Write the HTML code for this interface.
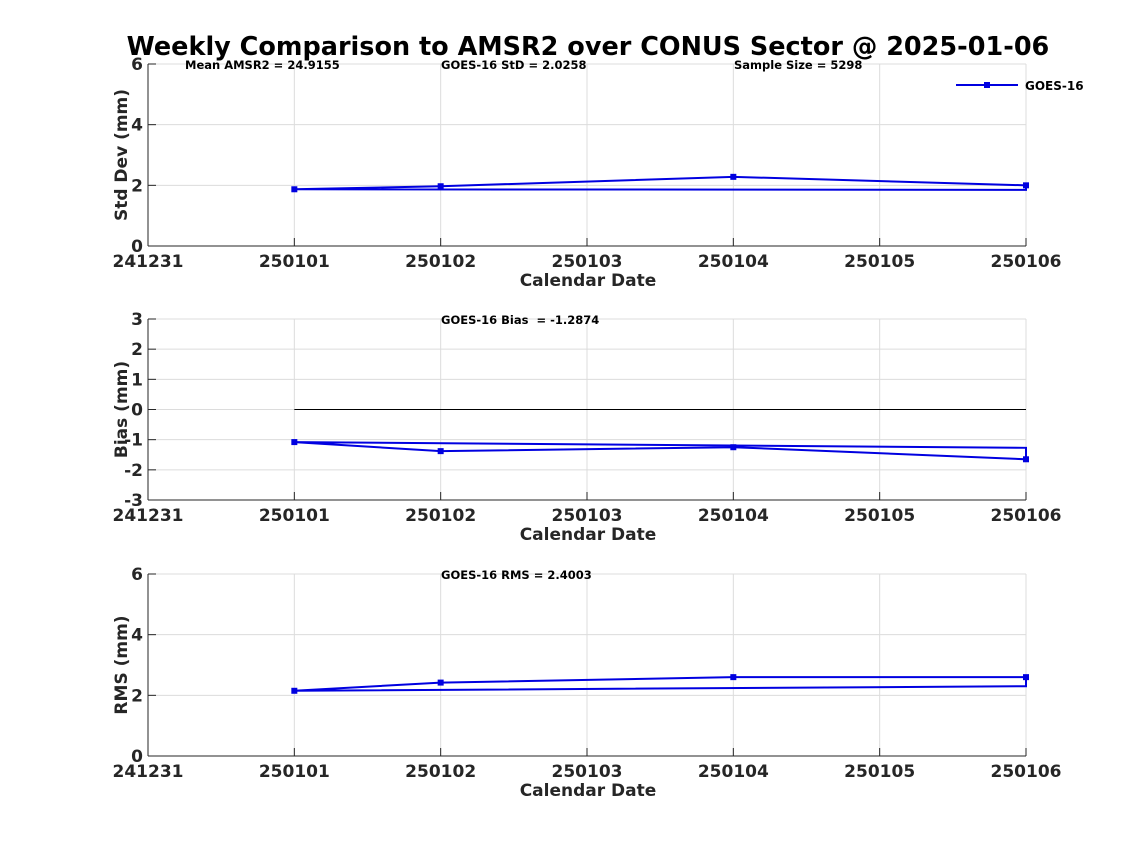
<!DOCTYPE html>
<html><head><meta charset="utf-8"><style>
body{margin:0;background:#fff}
svg text{font-family:"DejaVu Sans","Liberation Sans",sans-serif;font-weight:bold;fill:#262626;white-space:pre}
</style></head><body>
<svg id="c" width="1135" height="851" xmlns="http://www.w3.org/2000/svg">
<text x="588" y="55" text-anchor="middle" font-size="25.5" style="fill:#000">Weekly Comparison to AMSR2 over CONUS Sector @ 2025-01-06</text>
</svg>
<script>
const xTickLabels=["241231","250101","250102","250103","250104","250105","250106"];
const dates=[1,2,4,6,6,1];
const markerCount=4;
const stdValues=[1.87,1.97,2.28,2.0,1.85,1.87];
const biasValues=[-1.08,-1.38,-1.25,-1.65,-1.27,-1.08];
const rmsValues=[2.15,2.42,2.6,2.6,2.3,2.15];
const stdTicks=[0,2,4,6];
const biasTicks=[-3,-2,-1,0,1,2,3];
const rmsTicks=[0,2,4,6];
const annotations=[
 [["Mean AMSR2 = 24.9155",185],["GOES-16 StD = 2.0258",441],["Sample Size = 5298",734]],
 [["GOES-16 Bias  = -1.2874",441]],
 [["GOES-16 RMS = 2.4003",441]]];
const NS="http://www.w3.org/2000/svg";
const svg=document.getElementById('c');
const X0=148,X1=1026;
const xs=d=>X0+(X1-X0)*d/6;
function mk(tag,at,parent){const e=document.createElementNS(NS,tag);for(const k in at)e.setAttribute(k,at[k]);(parent||svg).appendChild(e);return e;}
const panels=[
 {top:64,bot:246,min:0,max:6,ticks:stdTicks,vals:stdValues,label:"Std Dev (mm)",name:"std"},
 {top:319,bot:500,min:-3,max:3,ticks:biasTicks,vals:biasValues,label:"Bias (mm)",name:"bias"},
 {top:574,bot:756,min:0,max:6,ticks:rmsTicks,vals:rmsValues,label:"RMS (mm)",name:"rms"}];
panels.forEach((p,pi)=>{
 const ys=v=>p.bot-(p.bot-p.top)*(v-p.min)/(p.max-p.min);
 const g=mk('g',{});
 
 
 xTickLabels.forEach((t,i)=>{const x=xs(i);
  const l=mk('line',{x1:x,x2:x,y1:p.top,y2:p.bot,stroke:'#dcdcdc','stroke-width':1},g);
  
  mk('line',{x1:x,x2:x,y1:p.bot,y2:p.bot-8,stroke:'#262626','stroke-width':1},g);
  const tx=mk('text',{x:x,y:p.bot+21,'text-anchor':'middle','font-size':17},g);tx.textContent=t;
  
 });
 p.ticks.forEach(v=>{const y=ys(v);
  const l=mk('line',{x1:X0,x2:X1,y1:y,y2:y,stroke:'#dcdcdc','stroke-width':1},g);
  
  mk('line',{x1:X0,x2:X0+8,y1:y,y2:y,stroke:'#262626'},g);
  const tx=mk('text',{x:X0-5,y:y+6,'text-anchor':'end','font-size':17},g);tx.textContent=v;
  
 });
 mk('line',{x1:X0,x2:X0,y1:p.top,y2:p.bot,stroke:'#262626'},g);
 mk('line',{x1:X0,x2:X1,y1:p.bot,y2:p.bot,stroke:'#262626'},g);
 const xt=mk('text',{x:588,y:p.bot+40,'text-anchor':'middle','font-size':17},g);xt.textContent="Calendar Date";
 
 const yc=(p.top+p.bot)/2;
 const yt=mk('text',{x:0,y:0,'text-anchor':'middle','font-size':17,transform:`translate(127,${yc}) rotate(-90)`},g);yt.textContent=p.label;
 
 annotations[pi].forEach(a=>{const t=mk('text',{x:a[1],y:p.top+5,'font-size':11.5,style:'fill:#000'},g);t.textContent=a[0];
  });
 if(p.name==='bias'){const z=mk('line',{x1:xs(1),x2:xs(6),y1:ys(0),y2:ys(0),stroke:'#000','stroke-width':1},g);
  }
 const pts=dates.map((d,i)=>xs(d)+','+ys(p.vals[i])).join(' ');
 const pl=mk('polyline',{points:pts,fill:'none',stroke:'#0000e0','stroke-width':2},g);
 
 for(let i=0;i<markerCount;i++){const m=mk('rect',{x:xs(dates[i])-3,y:ys(p.vals[i])-3,width:6,height:6,fill:'#0000e0'},g);
  }
});
const lg=mk('g',{});


mk('line',{x1:956,x2:1018,y1:85,y2:85,stroke:'#0000e0','stroke-width':2},lg);
mk('rect',{x:984,y:82,width:6,height:6,fill:'#0000e0'},lg);
const lt=mk('text',{x:1025,y:90,'font-size':12,style:'fill:#000'},lg);lt.textContent="GOES-16";


</script>
</body></html>
